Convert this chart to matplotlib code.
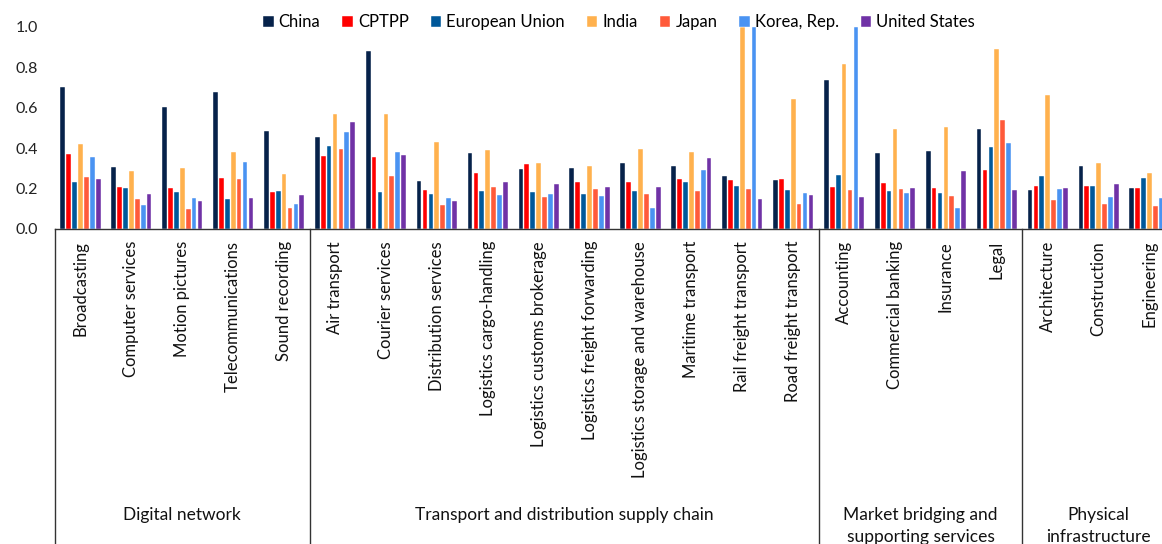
import matplotlib
matplotlib.use("Agg")
import matplotlib.pyplot as plt
import matplotlib.transforms as mtransforms
import numpy as np

plt.rcParams['font.family'] = ['Lato', 'DejaVu Sans']

categories = ["Broadcasting", "Computer services", "Motion pictures", "Telecommunications",
              "Sound recording",
              "Air transport", "Courier services", "Distribution services",
              "Logistics cargo-handling", "Logistics customs brokerage",
              "Logistics freight forwarding", "Logistics storage and warehouse",
              "Maritime transport", "Rail freight transport", "Road freight transport",
              "Accounting", "Commercial banking", "Insurance", "Legal",
              "Architecture", "Construction", "Engineering"]

groups = ["Digital network", "Transport and distribution supply chain",
          "Market bridging and\nsupporting services", "Physical\ninfrastructure"]
group_sizes = [5, 10, 4, 3]

series_names = ["China", "CPTPP", "European Union", "India", "Japan", "Korea, Rep.", "United States"]

china = [0.701, 0.305, 0.604, 0.677, 0.484,
         0.455, 0.880, 0.239, 0.376, 0.297, 0.300, 0.325, 0.312, 0.261, 0.243,
         0.736, 0.376, 0.386, 0.495,
         0.193, 0.313, 0.203]
cptpp = [0.370, 0.209, 0.203, 0.252, 0.185,
         0.361, 0.356, 0.193, 0.279, 0.322, 0.233, 0.234, 0.246, 0.243, 0.248,
         0.206, 0.228, 0.203, 0.292,
         0.211, 0.213, 0.204]
eu = [0.233, 0.201, 0.183, 0.150, 0.188,
      0.411, 0.183, 0.173, 0.188, 0.182, 0.172, 0.188, 0.231, 0.213, 0.192,
      0.267, 0.187, 0.177, 0.408,
      0.264, 0.211, 0.251]
india = [0.421, 0.286, 0.304, 0.381, 0.272,
         0.568, 0.568, 0.431, 0.391, 0.327, 0.314, 0.396, 0.380, 1.0, 0.644,
         0.818, 0.497, 0.507, 0.889,
         0.663, 0.325, 0.277]
japan = [0.256, 0.147, 0.101, 0.249, 0.104,
         0.394, 0.262, 0.119, 0.208, 0.158, 0.200, 0.172, 0.190, 0.196, 0.122,
         0.195, 0.198, 0.163, 0.540,
         0.145, 0.122, 0.114]
korea = [0.356, 0.119, 0.152, 0.330, 0.124,
         0.482, 0.380, 0.153, 0.168, 0.175, 0.162, 0.102, 0.290, 1.0, 0.178,
         1.0, 0.177, 0.102, 0.427,
         0.198, 0.158, 0.153]
usa = [0.246, 0.172, 0.139, 0.153, 0.167,
       0.528, 0.366, 0.137, 0.234, 0.223, 0.206, 0.206, 0.351, 0.149, 0.167,
       0.157, 0.203, 0.286, 0.193,
       0.201, 0.223, 0.200]

colors = ["#06224a", "#ff0000", "#00589a", "#ffb14e", "#ff5a3a", "#4a93f2", "#7032a6"]
all_series = [china, cptpp, eu, india, japan, korea, usa]

W, H = 1162, 544
fig = plt.figure(figsize=(W / 100, H / 100), dpi=100)
ax_left, ax_right, ax_top, ax_bot = 55, 1175, 27, 229
ax = fig.add_axes([ax_left / W, 1 - ax_bot / H, (ax_right - ax_left) / W, (ax_bot - ax_top) / H])

n = len(categories)
x = np.arange(n)
step = 0.116
bw = 0.094
for i, (name, vals, c) in enumerate(zip(series_names, all_series, colors)):
    offs = (i - 3) * step
    ax.bar(x + offs, vals, width=bw, color=c, edgecolor='white', linewidth=0.3, label=name, zorder=2)

ax.set_xlim(-0.5, n - 0.5)
ax.set_ylim(0, 1.0)
ax.set_yticks(np.arange(0, 1.01, 0.2))
ax.set_yticklabels([f"{v:.1f}" for v in np.arange(0, 1.01, 0.2)], fontsize=11.5, color='#222222')
ax.tick_params(axis='y', length=0, pad=12)
ax.set_xticks([])
for s in ['top', 'right', 'left']:
    ax.spines[s].set_visible(False)
ax.spines['bottom'].set_color('#333333')
ax.spines['bottom'].set_linewidth(1.0)

trans = mtransforms.blended_transform_factory(ax.transData, ax.transAxes)
px = 1.0 / (ax_bot - ax_top)  # axes fraction per pixel

# category labels
for xi, cat in zip(x, categories):
    ax.text(xi, -12 * px, cat, rotation=90, ha='center', va='top', fontsize=12,
            color='#111111', transform=trans, clip_on=False)

# group separators and labels
bounds = np.concatenate([[0], np.cumsum(group_sizes)]) - 0.5
for b in bounds:
    ax.plot([b, b], [0, -2.0], color='#333333', linewidth=1.0, transform=trans, clip_on=False)
for gi, g in enumerate(groups):
    cx = (bounds[gi] + bounds[gi + 1]) / 2
    ax.text(cx, -(507 - ax_bot) * px, g, ha='center', va='top', fontsize=12.5,
            color='#111111', transform=trans, clip_on=False, linespacing=1.45)

leg = fig.legend(loc='center', bbox_to_anchor=(619 / W, 1 - 22 / H), ncol=7, frameon=False,
                 fontsize=12, handlelength=0.65, handleheight=0.65, handletextpad=0.3,
                 columnspacing=1.3, borderpad=0)

fig.savefig("out.png", dpi=100)
